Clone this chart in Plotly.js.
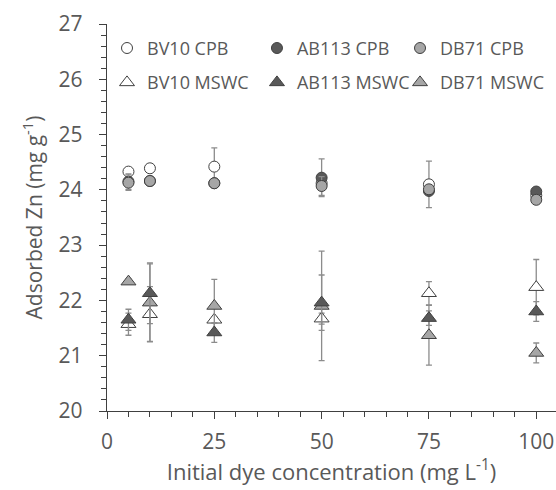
<!DOCTYPE html>
<html><head><meta charset="utf-8">
<script src="https://cdn.plot.ly/plotly-3.0.1.min.js"></script>
<style>body{margin:0;background:#fff}#c{width:556px;height:490px}</style>
</head><body><div id="c"></div>
<script>
const conc = [5, 10, 25, 50, 75, 100];
const bv10CPB = [24.33, 24.39, 24.42, 24.12, 24.10, 23.90];
const bv10CPBerr = [0.05, 0.05, 0.34, 0.05, 0.42, 0.05];
const ab113CPB = [24.15, 24.16, 24.12, 24.22, 23.98, 23.97];
const ab113CPBerr = [0.14, 0.05, 0.05, 0.34, 0.05, 0.05];
const db71CPB = [24.13, 24.16, 24.12, 24.07, 24.01, 23.82];
const db71CPBerr = [0.14, 0.05, 0.05, 0.17, 0.05, 0.05];
const bv10MSWC = [21.57, 21.75, 21.65, 21.67, 22.13, 22.24];
const bv10MSWCerr = [0.20, 0.50, 0.05, 0.10, 0.21, 0.50];
const ab113MSWC = [21.65, 22.13, 21.42, 21.96, 21.68, 21.80];
const ab113MSWCerr = [0.19, 0.55, 0.18, 0.50, 0.13, 0.18];
const db71MSWC = [22.34, 21.96, 21.90, 21.90, 21.37, 21.05];
const db71MSWCerr = [0.05, 0.70, 0.48, 0.99, 0.54, 0.18];

const errStyle = (arr) => ({type:'data', array: arr, visible:true, color:'#8c8c8c', thickness:1.3, width:3});
function tr(name, y, err, sym, fill, legend, size, rank){
  return {x: conc, y: y, name: name, type:'scatter', mode:'markers', legend: legend,
    legendgroup: name, legendrank: rank,
    error_y: errStyle(err),
    marker:{symbol:sym, size:size, color:fill, line:{color:'#404040', width:1}}};
}
const data = [
  tr('BV10 MSWC', bv10MSWC, bv10MSWCerr, 'triangle-up', '#ffffff', 'legend', 13, 2),
  tr('DB71 MSWC', db71MSWC, db71MSWCerr, 'triangle-up', '#a6a6a6', 'legend3', 13, 2),
  tr('AB113 MSWC', ab113MSWC, ab113MSWCerr, 'triangle-up', '#595959', 'legend2', 13, 2),
  tr('BV10 CPB', bv10CPB, bv10CPBerr, 'circle', '#ffffff', 'legend', 11, 1),
  tr('AB113 CPB', ab113CPB, ab113CPBerr, 'circle', '#595959', 'legend2', 11, 1),
  tr('DB71 CPB', db71CPB, db71CPBerr, 'circle', '#a6a6a6', 'legend3', 11, 1)
];
const fam = '"Open Sans", "Liberation Sans", sans-serif';
const font = {family:fam, color:'#595959'};
function leg(x){
  return {orientation:'v', x:x, xanchor:'left', y:0.985, yanchor:'top',
    font:{size:18, family:fam, color:'#595959'}, bgcolor:'rgba(0,0,0,0)',
    traceorder:'grouped', tracegroupgap:8, itemwidth:30};
}
const layout = {
  width:556, height:490, paper_bgcolor:'#fff', plot_bgcolor:'#fff',
  margin:{l:107, r:0, t:24, b:79},
  font: font,
  showlegend:true,
  xaxis:{range:[0,104.6], tickvals:[0,25,50,75,100], ticks:'outside', ticklen:7, tickcolor:'#404040',
    showline:true, linecolor:'#404040', linewidth:1.3, showgrid:false, zeroline:false,
    ticklabelstandoff:4,
    tickfont:{size:21, family:fam, color:'#595959'},
    minor:{dtick:5, ticks:'outside', ticklen:5, tickcolor:'#404040', showgrid:false},
    title:{text:'Initial dye concentration (mg L<sup>-1</sup>)', font:{size:22, family:fam, color:'#595959'}, standoff:6}},
  yaxis:{range:[20,27], dtick:1, ticks:'outside', ticklen:7, tickcolor:'#404040',
    showline:true, linecolor:'#404040', linewidth:1.3, showgrid:false, zeroline:false,
    ticklabelstandoff:12,
    tickfont:{size:21, family:fam, color:'#595959'},
    minor:{dtick:0.2, ticks:'outside', ticklen:5, tickcolor:'#404040', showgrid:false},
    title:{text:'Adsorbed Zn (mg g<sup>-1</sup>)', font:{size:21, family:fam, color:'#595959'}, standoff:10}},
  legend: leg(0.0),
  legend2: leg(0.334),
  legend3: leg(0.6526)
};
Plotly.newPlot('c', data, layout, {displayModeBar:false, staticPlot:true});
</script></body></html>
